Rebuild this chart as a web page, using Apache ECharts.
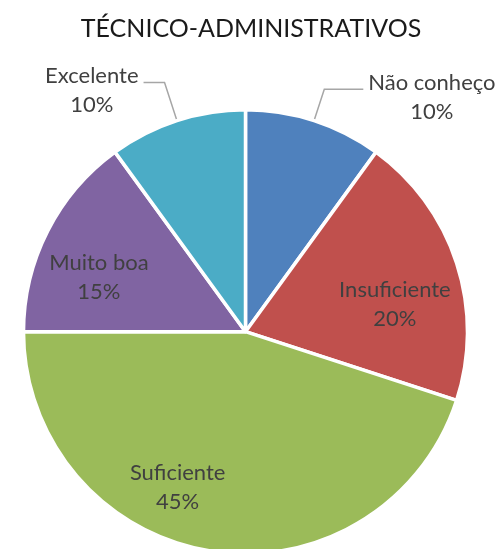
<!DOCTYPE html>
<html>
<head>
<meta charset="utf-8">
<title>TÉCNICO-ADMINISTRATIVOS</title>
<script src="https://cdn.jsdelivr.net/npm/echarts@6/dist/echarts.min.js"></script>
<style>
  html, body { margin: 0; padding: 0; background: #fff; }
  #chartPie { width: 502px; height: 549px; }
</style>
</head>
<body>
<div id="chartPie"></div>
<script>
  var titulo = 'TÉCNICO-ADMINISTRATIVOS'
  var categorias = ['Não conheço', 'Insuficiente', 'Suficiente', 'Muito boa', 'Excelente']
  var valores = [10, 20, 45, 15, 10]
  var cores = ['#4F81BD', '#C0504D', '#9BBB59', '#8064A2', '#4BACC6']
  // rotulos fora da fatia (com linha) so para as fatias pequenas
  var fora = [true, false, false, false, true]
  // ajuste fino dos rotulos internos (como no Excel)
  var ajusteRotulo = [null, [41, 8], [-50, 43], [-45, -3], null]
  // comprimento das linhas guia [length, length2]
  var linhaGuia = [[33, 39], null, null, null, [40, 21]]

  var dados = []
  for (var i = 0; i < categorias.length; i++) {
    var item = {
      name: categorias[i],
      value: valores[i],
      itemStyle: { color: cores[i] }
    }
    if (fora[i]) {
      item.label = { position: 'outside', padding: [16, 0, 0, 0] }
      item.labelLine = { show: true, length: linhaGuia[i][0], length2: linhaGuia[i][1] }
    } else {
      item.label = { position: 'inside' }
      item.labelLine = { show: false }
    }
    dados.push(item)
  }

  var myChart = echarts.init(document.getElementById('chartPie'))
  myChart.setOption({
    animation: false,
    title: {
      text: titulo,
      left: 'center',
      top: 11,
      textStyle: {
        fontFamily: 'Lato',
        fontWeight: 'normal',
        fontSize: 25,
        color: '#1a1a1a'
      }
    },
    series: [{
      type: 'pie',
      center: [245.5, 331.7],
      radius: 222,
      startAngle: 90,
      clockwise: true,
      avoidLabelOverlap: false,
      itemStyle: {
        borderColor: '#fff',
        borderWidth: 3.5
      },
      label: {
        formatter: '{a|{b}}\n{a|{d}%}',
        color: '#404040',
        fontFamily: 'Lato',
        fontSize: 22,
        bleedMargin: 0,
        distanceToLabelLine: 5,
        rich: {
          a: {
            align: 'center',
            color: '#404040',
            fontFamily: 'Lato',
            fontSize: 22,
            lineHeight: 29
          }
        }
      },
      labelLine: {
        smooth: false,
        lineStyle: { color: '#A6A6A6', width: 1.5 }
      },
      labelLayout: function (p) {
        var n = ajusteRotulo[p.dataIndex]
        return n ? { dx: n[0], dy: n[1] } : {}
      },
      data: dados
    }]
  })
</script>
</body>
</html>
